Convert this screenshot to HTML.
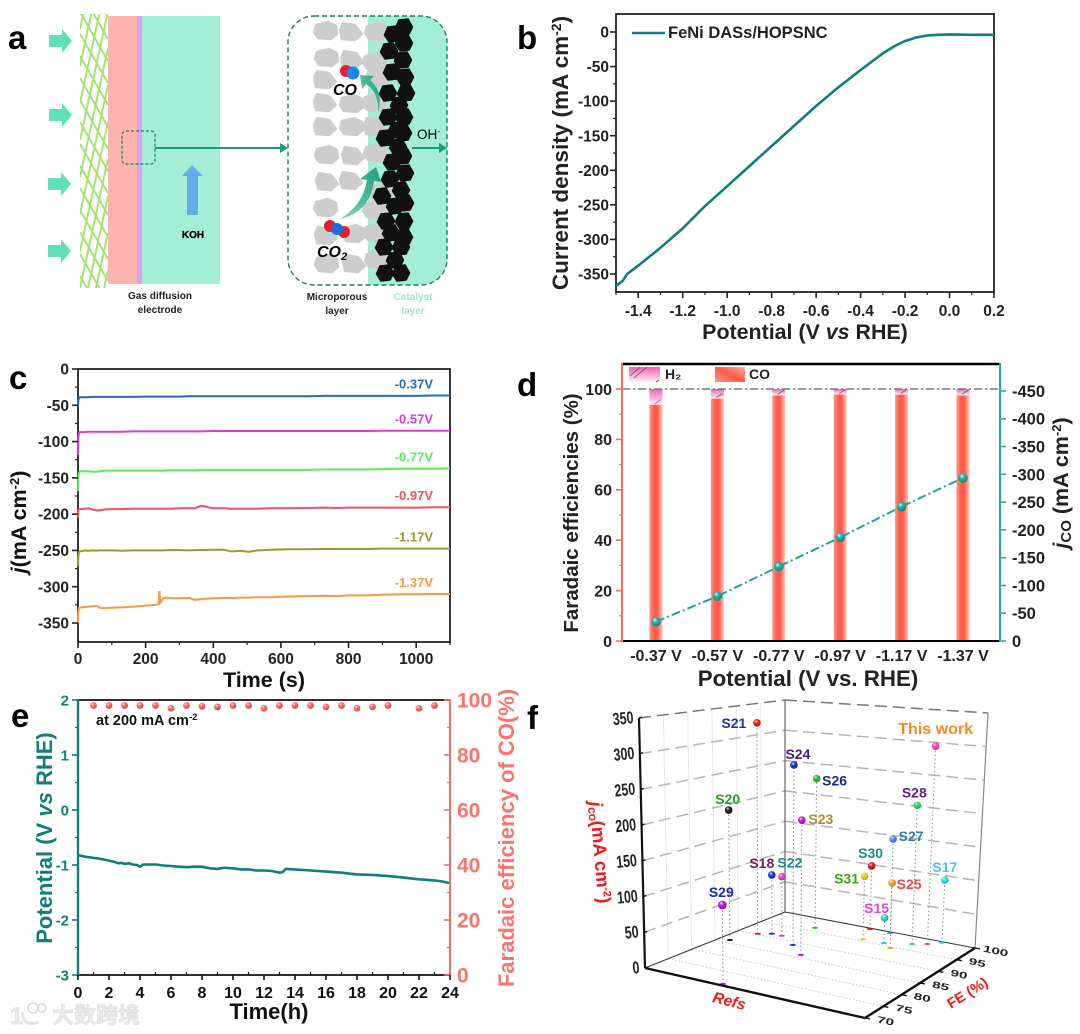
<!DOCTYPE html>
<html lang="en">
<head>
<meta charset="utf-8">
<title>FeNi DASs/HOPSNC electrochemical performance figure</title>
<style>
  html,body{margin:0;padding:0;background:#fff;}
  svg{display:block;filter:blur(.35px);}
  text{font-family:"Liberation Sans","Noto Sans CJK SC",sans-serif;font-weight:bold;}
</style>
</head>
<body>
<svg id="fig" xmlns="http://www.w3.org/2000/svg" width="1080" height="1034" viewBox="0 0 1080 1034">
  <defs>
    <linearGradient id="barCO" x1="0" x2="1" y1="0" y2="0">
      <stop offset="0" stop-color="#fb9888"/><stop offset=".35" stop-color="#ff5a48"/><stop offset=".62" stop-color="#ff5f4d"/><stop offset="1" stop-color="#ffc8bd"/>
    </linearGradient>
    <linearGradient id="legendCO" x1="0" x2="1" y1="1" y2="0">
      <stop offset="0" stop-color="#fb9888"/><stop offset=".5" stop-color="#ff5a48"/><stop offset="1" stop-color="#ffb0a4"/>
    </linearGradient>
    <linearGradient id="barH2" x1="0" x2="0" y1="0" y2="1">
      <stop offset="0" stop-color="#f060b0"/><stop offset="1" stop-color="#fff0f6"/>
    </linearGradient>
    <radialGradient id="shine" cx=".38" cy=".32" r=".6">
      <stop offset="0" stop-color="#fff" stop-opacity=".85"/><stop offset=".45" stop-color="#fff" stop-opacity=".05"/><stop offset="1" stop-color="#000" stop-opacity=".18"/>
    </radialGradient>
    <linearGradient id="curveArrow" x1="0" x2="1" y1="1" y2="0">
      <stop offset="0" stop-color="#7fd8bd"/><stop offset="1" stop-color="#1f9a7c"/>
    </linearGradient>
    <clipPath id="meshClip"><rect x="80" y="14" width="28.5" height="274"/></clipPath>
    <polygon id="hex" points="8.5,0 5,7 -4,8 -8.5,1 -5,-7 4,-8"/>
    <polygon id="rock" points="-10,-6 2,-9 10,-5 11,3 5,8 -8,7 -12,1"/>
    <polygon id="rock2" points="-8,-9 4,-7 11,2 4,8 -9,7 -11,-2"/>
  </defs>

  <!-- PANEL A -->
  <g id="panelA">
    <g fill="#5fe0b8">
      <polygon points="49,35 62,35 62,29 72,41 62,53 62,47 49,47"/>
      <polygon points="49,109 62,109 62,103 72,115 62,127 62,121 49,121"/>
      <polygon points="48,178 61,178 61,172 71,184 61,196 61,190 48,190"/>
      <polygon points="48,245 61,245 61,239 71,251 61,263 61,257 48,257"/>
    </g>
    <path id="mesh" fill="none" stroke="#a2e26e" stroke-width="1.9" clip-path="url(#meshClip)"/>
    <rect x="108" y="16" width="30" height="268" fill="#ffb3ae"/>
    <rect x="137" y="16" width="6" height="268" fill="#d9a4e4"/>
    <rect x="142" y="16" width="78" height="268" fill="#a4eed8"/>
    <rect x="122" y="131" width="33" height="33" rx="4" fill="none" stroke="#1d7a62" stroke-width="1.2" stroke-dasharray="3,2"/>
    <line x1="155" y1="148" x2="282" y2="148" stroke="#1f9a7c" stroke-width="2"/>
    <polygon points="280,143 288,148 280,153" fill="#1f9a7c"/>
    <polygon points="182,176 192,165 203,176 198,176 198,215 187,215 187,176" fill="#64ace8"/>
    <text x="193" y="238" font-size="10" text-anchor="middle" stroke="#000" stroke-width=".3">KOH</text>
    <text x="160" y="299" font-size="10" text-anchor="middle" fill="#222">Gas diffusion</text>
    <text x="160" y="313" font-size="10" text-anchor="middle" fill="#222">electrode</text>

    <path d="M368,16H422a25,25 0 0 1 25,25V260a25,25 0 0 1 -25,25H368Z" fill="#a4eed8"/>
    <g fill="#cdcdcd" stroke="#cdcdcd" stroke-width="2.4" stroke-linejoin="round">
      <use href="#rock" x="326" y="31"/><use href="#rock2" x="351" y="32"/><use href="#rock" x="377" y="32"/>
      <use href="#rock" x="327" y="58"/><use href="#rock2" x="352" y="60"/><use href="#rock" x="375" y="62"/>
      <use href="#rock2" x="325" y="80"/><use href="#rock" x="378" y="78"/>
      <use href="#rock2" x="325" y="103"/><use href="#rock" x="352" y="104"/><use href="#rock" x="375" y="103"/>
      <use href="#rock2" x="325" y="127"/><use href="#rock" x="352" y="127"/><use href="#rock2" x="375" y="127"/>
      <use href="#rock" x="327" y="155"/><use href="#rock2" x="353" y="156"/><use href="#rock" x="376" y="153"/>
      <use href="#rock2" x="327" y="182"/><use href="#rock2" x="351" y="181"/><use href="#rock" x="381" y="193"/>
      <use href="#rock" x="326" y="208"/><use href="#rock" x="375" y="210"/>
      <use href="#rock2" x="326" y="236"/><use href="#rock" x="354" y="234"/><use href="#rock" x="376" y="233"/>
      <use href="#rock" x="327" y="264"/><use href="#rock2" x="354" y="264"/><use href="#rock" x="377" y="260"/>
    </g>
    <g fill="#111" stroke="#111" stroke-width="1.6" stroke-linejoin="round">
      <use href="#hex" x="404" y="27"/><use href="#hex" x="393" y="34"/><use href="#hex" x="404" y="43"/><use href="#hex" x="389" y="51"/>
      <use href="#hex" x="403" y="60"/><use href="#hex" x="392" y="72"/><use href="#hex" x="405" y="77"/><use href="#hex" x="388" y="93"/>
      <use href="#hex" x="406" y="93"/><use href="#hex" x="399" y="105"/><use href="#hex" x="388" y="117"/><use href="#hex" x="404" y="117"/>
      <use href="#hex" x="397" y="130"/><use href="#hex" x="385" y="138"/><use href="#hex" x="403" y="133"/><use href="#hex" x="398" y="147"/>
      <use href="#hex" x="403" y="156"/><use href="#hex" x="392" y="162"/><use href="#hex" x="405" y="173"/><use href="#hex" x="390" y="179"/>
      <use href="#hex" x="401" y="190"/><use href="#hex" x="382" y="196"/><use href="#hex" x="395" y="206"/><use href="#hex" x="405" y="203"/>
      <use href="#hex" x="386" y="221"/><use href="#hex" x="404" y="221"/><use href="#hex" x="391" y="233"/><use href="#hex" x="404" y="237"/>
      <use href="#hex" x="384" y="247"/><use href="#hex" x="401" y="247"/><use href="#hex" x="395" y="260"/><use href="#hex" x="385" y="273"/><use href="#hex" x="401" y="273"/>
    </g>
    <rect x="288" y="16" width="159" height="269" rx="26" fill="none" stroke="#1d7a62" stroke-width="1.4" stroke-dasharray="5,3"/>
    <path d="M340,219Q363,205 367,180L360,179L376,167L381,182L374,181Q370,212 340,219Z" fill="url(#curveArrow)"/>
    <path d="M378,113Q379,92 366,84L362,89L360,75L374,76L370,80Q384,92 378,113Z" fill="url(#curveArrow)"/>
    <g>
      <circle cx="346" cy="71" r="6" fill="#e6202a"/><circle cx="353" cy="73" r="6.5" fill="#1a86e8"/>
    </g>
    <g>
      <circle cx="330" cy="226" r="6" fill="#e6202a"/><circle cx="344" cy="232" r="6" fill="#e6202a"/><circle cx="337" cy="229" r="6" fill="#1a70d8"/>
    </g>
    <text x="345" y="95" font-size="16" font-style="italic" text-anchor="middle">CO</text>
    <text x="332" y="257" font-size="16" font-style="italic" text-anchor="middle">CO<tspan font-size="11" dy="3">2</tspan></text>
    <text x="417" y="139" font-size="13.5" style="font-weight:normal">OH<tspan font-size="8" dy="-5">-</tspan></text>
    <line x1="412" y1="148" x2="441" y2="148" stroke="#1f9a7c" stroke-width="2"/>
    <polygon points="439,143 447,148 439,153" fill="#1f9a7c"/>
    <text x="337" y="300" font-size="10" text-anchor="middle" fill="#222">Microporous</text>
    <text x="337" y="314" font-size="10" text-anchor="middle" fill="#222">layer</text>
    <text x="413" y="300" font-size="10" text-anchor="middle" fill="#9fe5d0">Catalyst</text>
    <text x="413" y="314" font-size="10" text-anchor="middle" fill="#9fe5d0">layer</text>
  </g>

  <!-- PANEL LETTERS -->
  <text x="8" y="49" font-size="33">a</text>
  <text x="517" y="49" font-size="33">b</text>
  <text x="9" y="389" font-size="33">c</text>
  <text x="517" y="396" font-size="33">d</text>
  <text x="11" y="727" font-size="33">e</text>
  <text x="527" y="729" font-size="33">f</text>

  <!-- PANEL B -->
  <g id="panelB">
    <rect x="616" y="14" width="378" height="278" fill="none" stroke="#222" stroke-width="1.8"/>
    <line x1="632" y1="33" x2="665" y2="33" stroke="#0f7f78" stroke-width="2.6"/>
    <text x="668" y="38" font-size="16.5" fill="#222">FeNi DASs/HOPSNC</text>
    <text x="805" y="339" font-size="21.4" text-anchor="middle" fill="#222">Potential (V <tspan font-style="italic">vs</tspan> RHE)</text>
    <text transform="translate(568,153) rotate(-90)" font-size="22.5" text-anchor="middle" fill="#222">Current density (mA cm<tspan font-size="14" dy="-7">-2</tspan><tspan dy="7">)</tspan></text>
  </g>

  <!-- PANEL C -->
  <g id="panelC">
    <rect x="78" y="369" width="372" height="273" fill="none" stroke="#222" stroke-width="1.8"/>
    <text x="264" y="687" font-size="21.5" text-anchor="middle" fill="#111">Time (s)</text>
    <text transform="translate(26,522) rotate(-90)" font-size="21.5" text-anchor="middle" fill="#111"><tspan font-style="italic">j</tspan>(mA cm<tspan font-size="13" dy="-7">-2</tspan><tspan dy="7">)</tspan></text>
  </g>

  <!-- PANEL D -->
  <g id="panelD">
    <text x="808" y="686" font-size="22.3" text-anchor="middle" fill="#222">Potential (V vs. RHE)</text>
    <text transform="translate(578,513) rotate(-90)" font-size="20.5" text-anchor="middle" fill="#222">Faradaic efficiencies (%)</text>
    <text transform="translate(1068,483) rotate(-90)" font-size="21.5" text-anchor="middle" fill="#222"><tspan font-style="italic">j</tspan><tspan font-size="15" dy="3">CO</tspan><tspan dy="-3"> (mA cm</tspan><tspan font-size="13" dy="-7">-2</tspan><tspan dy="7">)</tspan></text>
  </g>

  <!-- PANEL E -->
  <g id="panelE">
    <text x="96" y="725" font-size="14.5" fill="#111">at 200 mA cm<tspan font-size="9.5" dy="-5">-2</tspan></text>
    <text x="269" y="1019" font-size="22" text-anchor="middle" fill="#111">Time(h)</text>
    <text transform="translate(52,838) rotate(-90)" font-size="22" text-anchor="middle" fill="#0f7f78">Potential (V <tspan font-style="italic">vs</tspan> RHE)</text>
    <text transform="translate(514,838) rotate(-90)" font-size="22" text-anchor="middle" fill="#f8746c">Faradaic efficiency of CO(%)</text>
  </g>

  <!-- PANEL F -->
  <g id="panelF">
    <text transform="translate(594,853) rotate(85)" font-size="18.5" text-anchor="middle" fill="#f01818"><tspan font-style="italic">j</tspan><tspan font-size="12" dy="2">co</tspan><tspan dy="-2">(mA cm</tspan><tspan font-size="11" dy="-6">-2</tspan><tspan dy="6">)</tspan></text>
    <text transform="translate(728,1006) rotate(14)" font-size="15.5" font-style="italic" text-anchor="middle" fill="#f01818">Refs</text>
    <text transform="translate(970,997) rotate(-32)" font-size="14.5" text-anchor="middle" fill="#f01818">FE (%)</text>
  </g>

  <!-- WATERMARK -->
  <g opacity=".8">
    <text x="10" y="1024" font-size="24" fill="#e4e4e4" stroke="#ccc" stroke-width=".5">1</text>
    <circle cx="33" cy="1008" r="5" fill="none" stroke="#d8d8d8" stroke-width="2"/>
    <circle cx="42" cy="1008" r="4" fill="none" stroke="#d8d8d8" stroke-width="2"/>
    <path d="M22,1012Q24,1028 38,1022" fill="none" stroke="#dcdcdc" stroke-width="3"/>
    <text x="52" y="1023" font-size="22" fill="#e4e4e4" stroke="#cfcfcf" stroke-width=".5">大数跨境</text>
  </g>
</svg>

<script>
/* ---------- PANEL B DATA ---------- */
const bPotential = [-1.5,-1.47,-1.45,-1.4,-1.3,-1.2,-1.1,-1.0,-0.9,-0.8,-0.7,-0.6,-0.5,-0.4,-0.3,-0.25,-0.2,-0.15,-0.1,-0.05,0,0.1,0.2];
const bCurrent = [-367,-360,-350,-338,-312,-284,-252,-223,-194,-165,-136,-107,-80,-55,-31,-21,-13,-8,-5,-4,-3.5,-4,-4];
const bXTicks = [-1.4,-1.2,-1.0,-0.8,-0.6,-0.4,-0.2,0.0,0.2];
const bXMinor = [-1.5,-1.3,-1.1,-0.9,-0.7,-0.5,-0.3,-0.1,0.1];
const bYTicks = [0,-50,-100,-150,-200,-250,-300,-350];
const bYMinor = [-25,-75,-125,-175,-225,-275,-325];

/* ---------- PANEL C DATA ---------- */
const cTime = [0,1,3,6,10,20,30,45,55,65,80,100,130,160,200,230,238,241,243,246,252,262,280,300,330,345,365,400,430,455,480,505,530,570,620,680,730,765,800,850,900,950,1000,1050,1100];
const cSeriesNames = ['-0.37V','-0.57V','-0.77V','-0.97V','-1.17V','-1.37V'];
const cCurrent037 = [-52,-44,-40,-39,-39,-39,-39,-38.5,-38.5,-38.5,-38.5,-38.5,-38.5,-38.5,-38,-38,-38,-38,-38,-38,-38,-38,-38,-38,-37.5,-37.5,-37.5,-37.5,-37.5,-37.5,-37.5,-37.5,-37.5,-37.5,-37.5,-37.5,-37,-37,-37,-37,-37,-37,-37,-36.5,-36.5];
const cCurrent057 = [-118,-95,-88,-87,-87,-87,-86.5,-86.5,-86.5,-86.5,-86.5,-86.5,-86.5,-86,-86,-86,-86,-86,-86,-86,-86,-86,-86,-86,-86,-86,-86,-85.5,-85.5,-85.5,-85.5,-85.5,-85.5,-85.5,-85.5,-85.5,-85.5,-85.5,-85.5,-85.5,-85,-85,-85,-85,-85];
const cCurrent077 = [-168,-150,-143,-141,-141,-141,-141,-141.5,-141.5,-141,-140,-140,-140,-140,-140,-140,-140,-140,-140,-140,-140,-139.5,-139.5,-139.5,-139.5,-139.5,-139,-139,-139,-139,-139,-139,-139,-139,-139,-139,-138.5,-138.5,-138.5,-138.5,-138,-137.5,-137.5,-137.5,-137];
const cCurrent097 = [-205,-195,-193,-193,-193,-192.5,-192,-194,-195,-194.5,-193.5,-193,-193,-192.5,-192.5,-192.5,-192.5,-192.5,-192.5,-192.5,-192.5,-192.5,-192.5,-192,-192,-192,-188.5,-192,-192,-192.5,-192.5,-192.5,-192.5,-192,-192,-191.5,-191,-191.5,-191,-191,-191,-191,-191,-190.5,-190.5];
const cCurrent117 = [-272,-258,-252,-251,-251,-250,-250.5,-250,-250.5,-250,-250,-250,-250.5,-250,-250,-250,-250,-250,-250,-250,-250,-249.5,-249.5,-249.5,-250,-249.5,-249.5,-249,-249,-251.5,-250.5,-252,-250,-249,-248.5,-248.5,-248,-248,-248,-248,-247.5,-247.5,-247.5,-247.5,-247.5];
const cCurrent137 = [-350,-335,-329,-329,-328.5,-328,-327.5,-327,-326.5,-329,-329.5,-329,-328.5,-327.5,-326,-325,-324,-306,-322,-320,-316,-315,-316,-316,-315.5,-318,-317,-316,-315.5,-315.5,-315,-315,-314.5,-314.5,-313.5,-313,-312.5,-313,-312,-312,-311,-310.5,-310.5,-310,-310];
const cColors = ['#1f6fb0','#d83ae0','#55ee55','#f0505a','#9a9a2a','#f79a45'];
const cXTicks = [0,200,400,600,800,1000];
const cXMinor = [100,300,500,700,900,1100];
const cYTicks = [0,-50,-100,-150,-200,-250,-300,-350];
const cYMinor = [-25,-75,-125,-175,-225,-275,-325];

/* ---------- PANEL D DATA ---------- */
const dCategories = ['-0.37 V','-0.57 V','-0.77 V','-0.97 V','-1.17 V','-1.37 V'];
const dFeCO = [93.8,96.2,97.5,97.8,97.8,97.5];
const dFeH2 = [6.2,3.8,2.5,2.2,2.2,2.5];
const dJco = [34.7,80.7,133.9,186.5,242,293.5];
const dLeftTicks = [0,20,40,60,80,100];
const dLeftMinor = [10,30,50,70,90];
const dRightTicks = [0,50,100,150,200,250,300,350,400,450];

/* ---------- PANEL E DATA ---------- */
const eHours = [0,0.5,1,1.5,2,2.3,2.6,2.8,3,3.3,3.5,3.8,4,4.2,4.5,5,5.5,6,6.5,7,7.5,8,8.5,9,9.4,10,10.5,11,11.5,12,12.5,13,13.2,13.4,14,15,16,17,18,19,20,21,22,23,23.5,24];
const ePotential = [-0.82,-0.85,-0.87,-0.89,-0.92,-0.94,-0.97,-0.96,-0.98,-0.97,-0.99,-1.0,-1.03,-0.99,-0.99,-0.99,-1.01,-1.02,-1.03,-1.04,-1.03,-1.03,-1.06,-1.07,-1.05,-1.06,-1.08,-1.08,-1.1,-1.1,-1.11,-1.14,-1.13,-1.07,-1.08,-1.1,-1.12,-1.14,-1.17,-1.18,-1.2,-1.23,-1.26,-1.28,-1.3,-1.33];
const eFeHours = [1,2,3,4,5,6,7,8,9,10,11,12,13,14,15,16,17,18,19,20,22,23];
const eFe = [98,98,98,98,98,97,98,97.7,97.5,98,98,97,98,98,98,97.5,98,97,97.5,98,97,98];
const eTimeTicks = [0,2,4,6,8,10,12,14,16,18,20,22,24];
const eTimeMinor = [1,3,5,7,9,11,13,15,17,19,21,23];
const eLeftTicks = [2,1,0,-1,-2,-3];
const eLeftMinor = [1.5,0.5,-0.5,-1.5,-2.5];
const eRightTicks = [100,80,60,40,20,0];
const eRightMinor = [90,70,50,30,10];

/* ---------- PANEL F DATA ---------- */
const fNames = ['S21','S24','S26','S20','S23','S18','S22','S29','This work','S28','S27','S30','S31','S25','S17','S15'];
const fRefs = [9,29.7,24.2,4.8,39.8,13.8,18.8,34.3,78.4,72.5,56.2,45.4,50.5,66.9,83.4,61];
const fFE = [90.3,88.9,96.4,86.1,86,91.3,91.3,70.6,98.3,97.3,99.6,99.7,95.7,94.5,99.6,95.8];
const fJco = [326,270,235,197,197,91,91,107,298,209,146,99,96,97,95,38];
const fPointColors = ['#f01010','#1030c8','#20c020','#111111','#c010c0','#1030d8','#f030d0','#b010e0','#f040b0','#20d060','#4090e0','#d01010','#e0d000','#f0a020','#20e0e0','#20d0d0'];
const fLabelColors = ['#1a3a9a','#4a1a7a','#1a2a80','#2a9a2a','#b08a30','#7a1a5a','#1a8a8a','#1a2ab0','#f58a20','#6a1a8a','#2a7ab0','#1a8a8a','#3aa020','#e84a4a','#4ac0f0','#e040e0'];
const fLabelOffsetX = [-23,4,18,-1,19,-10,8,-1,0,-3,18,-1,-18,17,0,-8];
const fLabelOffsetY = [0,-11,2,-11,-1,-12,-14,-13,-17,-13,-3,-13,2,1,-13,-10];
const fJTicks = [0,50,100,150,200,250,300,350];
const fFeTicks = [70,75,80,85,90,95,100];

/* ---------- HELPERS ---------- */
const SVGNS = 'http://www.w3.org/2000/svg';
function make(tag, attrs, parent) {
  const node = document.createElementNS(SVGNS, tag);
  for (const k in attrs) node.setAttribute(k, attrs[k]);
  parent.appendChild(node);
  return node;
}
function linear(d0, d1, r0, r1) {
  return v => r0 + (v - d0) * (r1 - r0) / (d1 - d0);
}
function pathFrom(xs, ys, xScale, yScale) {
  return xs.map((x, i) => (i ? 'L' : 'M') + xScale(x).toFixed(1) + ',' + yScale(ys[i]).toFixed(1)).join('');
}
function vTicks(parent, yScale, values, axisX, dir, len, color, width) {
  values.forEach(v => {
    const el = make('line', {x1: axisX, x2: axisX + dir * len, y1: yScale(v), y2: yScale(v), stroke: color, 'stroke-width': width}, parent);
    
    
  });
}
function hTicks(parent, xScale, values, axisY, len, color, width) {
  values.forEach(v => {
    const el = make('line', {x1: xScale(v), x2: xScale(v), y1: axisY, y2: axisY + len, stroke: color, 'stroke-width': width}, parent);
    
    
  });
}
function vLabels(parent, yScale, values, x, anchor, size, color, format) {
  values.forEach(v => {
    const el = make('text', {x: x, y: yScale(v) + size * 0.36, 'text-anchor': anchor, 'font-size': size, fill: color}, parent);
    el.textContent = format ? format(v) : String(v);
    
    
  });
}
function hLabels(parent, xScale, values, y, size, color, format) {
  values.forEach(v => {
    const el = make('text', {x: xScale(v), y: y, 'text-anchor': 'middle', 'font-size': size, fill: color}, parent);
    el.textContent = format ? format(v) : String(v);
    
    
  });
}
function sphere(parent, cx, cy, r, color) {
  const base = make('circle', {cx: cx, cy: cy, r: r, fill: color}, parent);
  
  
  const gloss = make('circle', {cx: cx, cy: cy, r: r, fill: 'url(#shine)'}, parent);
  
  
}

/* ---------- PANEL A MESH ---------- */
(function () {
  let d = '';
  for (let y = -32; y < 290; y += 22) {
    d += 'M80,' + y + 'L108,' + (y + 49);
  }
  for (let y = -100; y < 290; y += 37) {
    d += 'M108,' + y + 'L80,' + (y + 129);
  }
  document.getElementById('mesh').setAttribute('d', d);
})();

/* ---------- PANEL B ---------- */
(function () {
  const g = document.getElementById('panelB');
  const x = linear(-1.5, 0.2, 616, 994);
  const y = linear(0, -350, 32, 274);
  const curve = make('path', {d: pathFrom(bPotential, bCurrent, x, y), fill: 'none', stroke: '#0f7f78', 'stroke-width': 2.6, 'stroke-linejoin': 'round'}, g);
  
  
  vTicks(g, y, bYTicks, 616, -1, 6, '#222', 1.6);
  vTicks(g, y, bYMinor, 616, -1, 3, '#222', 1.2);
  hTicks(g, x, bXTicks, 292, 6, '#222', 1.6);
  hTicks(g, x, bXMinor, 292, 3, '#222', 1.2);
  vLabels(g, y, bYTicks, 609, 'end', 15.5, '#222');
  hLabels(g, x, bXTicks, 316, 15.5, '#222', v => v.toFixed(1));
})();

/* ---------- PANEL C ---------- */
(function () {
  const g = document.getElementById('panelC');
  const x = linear(0, 1100, 78, 450);
  const y = linear(0, -350, 369, 623);
  const series = [cCurrent037, cCurrent057, cCurrent077, cCurrent097, cCurrent117, cCurrent137];
  series.forEach((vals, i) => {
    const line = make('path', {d: pathFrom(cTime, vals, x, y), fill: 'none', stroke: cColors[i], 'stroke-width': 2}, g);
    
    
    const lab = make('text', {x: 433, y: y(vals[vals.length - 1]) - 7, 'text-anchor': 'end', 'font-size': 13, fill: cColors[i]}, g);
    lab.textContent = cSeriesNames[i];
    
    
  });
  vTicks(g, y, cYTicks, 78, -1, 6, '#222', 1.6);
  vTicks(g, y, cYMinor, 78, -1, 3, '#222', 1.2);
  hTicks(g, x, cXTicks, 642, 6, '#222', 1.6);
  hTicks(g, x, cXMinor, 642, 3, '#222', 1.2);
  vLabels(g, y, cYTicks, 69, 'end', 15.5, '#222');
  hLabels(g, x, cXTicks, 664, 15.5, '#222');
})();

/* ---------- PANEL D ---------- */
(function () {
  const g = document.getElementById('panelD');
  const left = 622, right = 1000, bottom = 641;
  const x = linear(0, 5, 656, 963);
  const yL = linear(0, 100, 641, 389);
  const yR = linear(0, 450, 641, 391);
  const barW = 13;
  dFeCO.forEach((v, i) => {
    const co = make('rect', {x: x(i) - barW / 2, y: yL(v), width: barW, height: bottom - yL(v), fill: 'url(#barCO)'}, g);
    
    
    const h2 = make('rect', {x: x(i) - barW / 2, y: yL(v + dFeH2[i]), width: barW, height: yL(v) - yL(v + dFeH2[i]), fill: 'url(#barH2)'}, g);
    
    
    const hatch = make('line', {x1: x(i) - 1, y1: yL(v) - 1, x2: x(i) + 5, y2: yL(v) - 5, stroke: '#555', 'stroke-width': .7}, g);
    
    
  });
  const refLine = make('line', {x1: left, x2: right, y1: yL(100), y2: yL(100), stroke: '#777', 'stroke-width': 1.4, 'stroke-dasharray': '8,3,2,3'}, g);
  
  
  const jLine = make('path', {d: pathFrom(dJco.map((_, i) => i), dJco, x, yR), fill: 'none', stroke: '#1aa59a', 'stroke-width': 2, 'stroke-dasharray': '9,3,2,3'}, g);
  
  
  dJco.forEach((v, i) => sphere(g, x(i), yR(v), 4.8, '#14a89f'));

  const topAxis = make('line', {x1: left, x2: right, y1: 364, y2: 364, stroke: '#000', 'stroke-width': 2.4}, g);
  
  
  const bottomAxis = make('line', {x1: left, x2: right, y1: bottom, y2: bottom, stroke: '#000', 'stroke-width': 2}, g);
  
  
  const leftAxis = make('line', {x1: left, x2: left, y1: 363, y2: bottom + 1, stroke: '#f96a60', 'stroke-width': 2}, g);
  
  
  const rightAxis = make('line', {x1: right, x2: right, y1: 363, y2: bottom + 1, stroke: '#27aaa5', 'stroke-width': 2}, g);
  
  
  vTicks(g, yL, dLeftTicks, left, -1, 6, '#f96a60', 1.6);
  vTicks(g, yL, dLeftMinor, left, -1, 3, '#f96a60', 1.2);
  vTicks(g, yR, dRightTicks, right, 1, 6, '#27aaa5', 1.6);
  vLabels(g, yL, dLeftTicks, 612, 'end', 16, '#222');
  vLabels(g, yR, dRightTicks, 1012, 'start', 16.5, '#222', v => v === 0 ? '0' : '-' + v);
  hLabels(g, x, [0, 1, 2, 3, 4, 5], 661, 16, '#222', i => dCategories[i]);

  const lgH2 = make('rect', {x: 629, y: 367, width: 31, height: 15, fill: 'url(#barH2)'}, g);
  
  
  const lgH2Hatch = make('path', {d: 'M630,376L640,367M634,378L647,367M656,382L659,380', stroke: '#555', 'stroke-width': .8, fill: 'none'}, g);
  
  
  const lgH2Text = make('text', {x: 665, y: 379, 'font-size': 14, fill: '#222'}, g);
  lgH2Text.textContent = 'H₂';
  
  
  const lgCO = make('rect', {x: 715, y: 367, width: 30, height: 15, fill: 'url(#legendCO)'}, g);
  
  
  const lgCOText = make('text', {x: 749, y: 379, 'font-size': 14, fill: '#222'}, g);
  lgCOText.textContent = 'CO';
  
  
})();

/* ---------- PANEL E ---------- */
(function () {
  const g = document.getElementById('panelE');
  const x = linear(0, 24, 78, 450);
  const yL = linear(2, -3, 700, 975);
  const yR = linear(100, 0, 700, 975);
  const trace = make('path', {d: pathFrom(eHours, ePotential, x, yL), fill: 'none', stroke: '#0f7f78', 'stroke-width': 2.6}, g);
  
  
  eFe.forEach((v, i) => sphere(g, x(eFeHours[i]), yR(v), 3.4, '#f8605a'));
  const topAxis = make('line', {x1: 78, x2: 450, y1: 700, y2: 700, stroke: '#111', 'stroke-width': 1.8}, g);
  
  
  const bottomAxis = make('line', {x1: 78, x2: 450, y1: 975, y2: 975, stroke: '#111', 'stroke-width': 1.8}, g);
  
  
  const leftAxis = make('line', {x1: 78, x2: 78, y1: 699, y2: 976, stroke: '#0f7f78', 'stroke-width': 2.4}, g);
  
  
  const rightAxis = make('line', {x1: 450, x2: 450, y1: 699, y2: 976, stroke: '#f96a60', 'stroke-width': 2}, g);
  
  
  vTicks(g, yL, eLeftTicks, 78, -1, 6, '#0f7f78', 1.6);
  vTicks(g, yL, eLeftMinor, 78, -1, 3, '#0f7f78', 1.2);
  vTicks(g, yR, eRightTicks, 450, -1, 6, '#f96a60', 1.6);
  vTicks(g, yR, eRightMinor, 450, -1, 3, '#f96a60', 1.2);
  hTicks(g, x, eTimeTicks, 975, 5, '#111', 1.6);
  hTicks(g, x, eTimeMinor, 975, -3, '#111', 1.2);
  vLabels(g, yL, eLeftTicks, 69, 'end', 15, '#0f7f78');
  vLabels(g, yR, eRightTicks, 457, 'start', 21, '#f8746c');
  hLabels(g, x, eTimeTicks, 998, 16, '#111');
})();

/* ---------- PANEL F ---------- */
(function () {
  const g = document.getElementById('panelF');
  const A = [645, 968], B = [865, 1018], C = [975, 948], D = [785, 912];
  const hA = 250, hB = 277, hC = 235, hD = 212;
  const tA = -6, tB = 4, tC = 13, tD = 0;
  const mix = (a, b, c, d, u, v) => a * (1 - u) * (1 - v) + b * u * (1 - v) + c * u * v + d * (1 - u) * v;
  const refU = linear(0, 100, 0, 1);
  const feV = linear(70, 100, 0, 1);
  const jH = linear(0, 350, 0, 1);
  function proj(ref, fe, j) {
    const u = refU(ref), v = feV(fe), k = jH(j);
    return [
      mix(A[0], B[0], C[0], D[0], u, v) + k * mix(tA, tB, tC, tD, u, v),
      mix(A[1], B[1], C[1], D[1], u, v) - k * mix(hA, hB, hC, hD, u, v)
    ];
  }
  function seg(p, q, attrs) {
    return make('line', Object.assign({x1: p[0], y1: p[1], x2: q[0], y2: q[1]}, attrs), g);
  }
  /* left wall faint verticals */
  [75, 80, 85, 90, 95].forEach(fe => {
    const l = seg(proj(0, fe, 0), proj(0, fe, 350), {stroke: '#e6e6e6', 'stroke-width': 1});
    
    
  });
  /* floor dotted lines */
  fFeTicks.slice(1, 6).forEach(fe => {
    const l = seg(proj(0, fe, 0), proj(100, fe, 0), {stroke: '#c4c4c4', 'stroke-width': 1, 'stroke-dasharray': '1.5,2'});
    
    
  });
  /* wall dashed lines */
  fJTicks.slice(1).forEach(j => {
    const color = j === 350 ? '#777' : '#b4b4b4';
    const a = seg(proj(0, 70, j), proj(0, 100, j), {stroke: color, 'stroke-width': 1.5, 'stroke-dasharray': '12,6'});
    
    
    const b = seg(proj(0, 100, j), proj(100, 100, j), {stroke: color, 'stroke-width': 1.5, 'stroke-dasharray': '12,6'});
    
    
  });
  const backEdge = seg(proj(0, 100, 0), proj(0, 100, 350), {stroke: '#666', 'stroke-width': 1.2});
  
  
  const rightEdge = seg(proj(100, 100, 0), proj(100, 100, 350), {stroke: '#888', 'stroke-width': 1.2});
  
  
  const floorLeft = seg(proj(0, 70, 0), proj(0, 100, 0), {stroke: '#333', 'stroke-width': 1});
  
  
  const floorBack = seg(proj(0, 100, 0), proj(100, 100, 0), {stroke: '#333', 'stroke-width': 1});
  
  
  /* points */
  fNames.forEach((name, i) => {
    const floor = proj(fRefs[i], fFE[i], 0);
    const top = proj(fRefs[i], fFE[i], fJco[i]);
    const drop = seg(floor, top, {stroke: '#888', 'stroke-width': 1, 'stroke-dasharray': '1.5,2.5'});
    
    
    const shadow = make('ellipse', {cx: floor[0], cy: floor[1], rx: 3.2, ry: 1, fill: fPointColors[i]}, g);
    
    
    sphere(g, top[0], top[1], name === 'S29' ? 4.4 : 3.8, fPointColors[i]);
    const lab = make('text', {x: top[0] + fLabelOffsetX[i], y: top[1] + fLabelOffsetY[i] + 5, 'text-anchor': 'middle', 'font-size': name === 'This work' ? 16 : 14, fill: fLabelColors[i]}, g);
    lab.textContent = name;
    
    
  });
  /* main axes */
  const yAxis = seg(proj(0, 70, 0), proj(0, 70, 350), {stroke: '#111', 'stroke-width': 2.2});
  
  
  const refsAxis = seg(proj(0, 70, 0), proj(100, 70, 0), {stroke: '#111', 'stroke-width': 2.4});
  
  
  const feAxis = seg(proj(100, 70, 0), proj(100, 100, 0), {stroke: '#111', 'stroke-width': 2.4});
  
  
  fJTicks.forEach(j => {
    const p = proj(0, 70, j);
    const t = seg(p, [p[0] + 3, p[1] - 1], {stroke: '#111', 'stroke-width': 1.4});
    
    
    const lab = make('text', {transform: 'translate(' + (p[0] - 5) + ',' + (p[1] + 5) + ') rotate(-6) scale(.8,1.12)', 'text-anchor': 'end', 'font-size': 15.5, fill: '#222'}, g);
    lab.textContent = String(j);
    
    
  });
  fFeTicks.forEach(fe => {
    const p = proj(100, fe, 0);
    const t = seg(p, [p[0] + 5, p[1] + 1], {stroke: '#111', 'stroke-width': 1.4});
    
    
    const lab = make('text', {transform: 'translate(' + (p[0] + 20) + ',' + (p[1] + 6) + ') rotate(12) scale(1.4,.85)', 'text-anchor': 'middle', 'font-size': 11, fill: '#222'}, g);
    lab.textContent = String(fe);
    
    
  });
})();
</script>
</body>
</html>
